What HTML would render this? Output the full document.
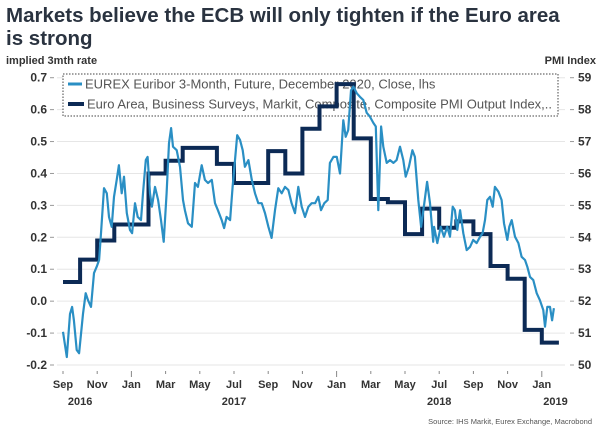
<!DOCTYPE html>
<html><head><meta charset="utf-8"><style>
body{margin:0;background:#fff;width:600px;height:431px;overflow:hidden;font-family:"Liberation Sans",sans-serif}
svg text{font-family:"Liberation Sans",sans-serif}
</style></head><body>
<svg id="chart" width="600" height="431" viewBox="0 0 600 431" xmlns="http://www.w3.org/2000/svg">
<text x="6" y="22" font-size="20.5" font-weight="bold" fill="#2a3340">Markets believe the ECB will only tighten if the Euro area</text>
<text x="6" y="45" font-size="20.5" font-weight="bold" fill="#2a3340">is strong</text>
<text x="6" y="64" font-size="11" font-weight="bold" fill="#333">implied 3mth rate</text>
<text x="596" y="64" font-size="11" font-weight="bold" fill="#333" text-anchor="end">PMI Index</text>
<g id="grid"></g>
<g>
<rect x="63" y="74" width="495" height="42" fill="#fff" stroke="#444" stroke-width="1" stroke-dasharray="1.5,1.5"/>
<g><line x1="68" y1="84" x2="82" y2="84" stroke="#2a8fc4" stroke-width="3"/><text x="85" y="88.5" font-size="13" fill="#555">EUREX Euribor 3-Month, Future, December 2020, Close, lhs</text></g>
<g><line x1="68" y1="104" x2="84" y2="104" stroke="#0c2a55" stroke-width="4"/><text x="87" y="108.5" font-size="13" fill="#555" textLength="465" lengthAdjust="spacingAndGlyphs">Euro Area, Business Surveys, Markit, Composite, Composite PMI Output Index,..</text></g>
</g>
<g id="axes"></g>
<g id="series"></g>
<text x="592" y="424" font-size="7.5" fill="#555" text-anchor="end">Source: IHS Markit, Eurex Exchange, Macrobond</text>
</svg>
<script>
const rateTicks=[0.7,0.6,0.5,0.4,0.3,0.2,0.1,0.0,-0.1,-0.2];
const pmiTicks=[59,58,57,56,55,54,53,52,51,50];
const monthLabels=["Sep","Nov","Jan","Mar","May","Jul","Sep","Nov","Jan","Mar","May","Jul","Sep","Nov","Jan"];
const yearLabels=["2016","2017","2018","2019"];
const yearMonths=[1,10,22,28.8];
const euriborMonths=[0,0.22,0.41,0.53,0.64,0.80,0.94,1.17,1.33,1.46,1.64,1.81,1.97,2.11,2.22,2.40,2.56,2.69,2.85,2.98,3.14,3.27,3.43,3.57,3.73,3.92,4.04,4.21,4.37,4.56,4.68,4.84,4.95,5.09,5.20,5.38,5.56,5.73,5.89,6.06,6.20,6.32,6.43,6.65,6.84,7.02,7.13,7.31,7.53,7.72,7.89,8.11,8.30,8.48,8.70,8.89,9.06,9.28,9.42,9.57,9.77,9.92,10.06,10.19,10.35,10.51,10.64,10.84,11.04,11.23,11.42,11.62,11.81,12.01,12.20,12.40,12.59,12.79,12.98,13.18,13.37,13.57,13.76,13.96,14.15,14.35,14.54,14.74,14.93,15.09,15.28,15.48,15.61,15.81,16.01,16.20,16.39,16.53,16.68,16.84,16.98,17.18,17.37,17.56,17.76,17.95,18.15,18.29,18.44,18.60,18.73,18.93,19.12,19.32,19.51,19.71,19.90,20.04,20.23,20.43,20.58,20.78,20.94,21.13,21.29,21.46,21.65,21.70,21.89,22.09,22.28,22.47,22.63,22.79,22.92,23.06,23.22,23.41,23.61,23.80,23.99,24.19,24.39,24.54,24.68,24.81,24.97,25.13,25.26,25.46,25.65,25.79,25.98,26.10,26.24,26.43,26.63,26.82,27.02,27.15,27.31,27.50,27.70,27.89,28.09,28.19,28.32,28.48,28.60,28.71];
const euriborValues=[-0.096,-0.175,-0.04,-0.018,-0.06,-0.153,-0.163,-0.04,0.025,0.003,-0.018,0.088,0.108,0.129,0.213,0.354,0.338,0.264,0.233,0.327,0.38,0.426,0.338,0.39,0.276,0.223,0.213,0.307,0.264,0.254,0.338,0.442,0.452,0.338,0.296,0.358,0.317,0.254,0.186,0.338,0.495,0.542,0.484,0.473,0.421,0.317,0.285,0.244,0.233,0.37,0.358,0.426,0.38,0.37,0.38,0.307,0.285,0.254,0.229,0.264,0.254,0.358,0.442,0.52,0.505,0.473,0.421,0.442,0.38,0.338,0.307,0.307,0.276,0.233,0.198,0.285,0.354,0.338,0.358,0.348,0.307,0.276,0.358,0.296,0.264,0.296,0.307,0.307,0.327,0.285,0.307,0.317,0.433,0.452,0.452,0.40,0.567,0.515,0.536,0.66,0.672,0.651,0.64,0.63,0.59,0.578,0.558,0.547,0.285,0.547,0.484,0.433,0.442,0.433,0.442,0.484,0.442,0.39,0.421,0.473,0.452,0.317,0.233,0.307,0.374,0.307,0.186,0.233,0.182,0.233,0.202,0.233,0.202,0.296,0.285,0.223,0.285,0.213,0.16,0.17,0.192,0.182,0.202,0.213,0.254,0.317,0.327,0.296,0.358,0.343,0.317,0.244,0.192,0.233,0.254,0.202,0.182,0.139,0.129,0.108,0.076,0.066,0.025,0.003,-0.028,-0.08,-0.018,-0.018,-0.06,-0.022,-0.03];
const pmiValues=[52.6,53.3,53.9,54.4,54.4,56.0,56.4,56.8,56.8,56.3,55.7,55.7,56.7,56.0,57.4,58.1,58.8,57.1,55.2,55.1,54.1,54.9,54.3,54.5,54.1,53.1,52.7,51.1,50.7];

const NS="http://www.w3.org/2000/svg";
const X0=63,PXM=17.1,YT=77.7,YB=365;
const xm=m=>X0+m*PXM;
const yRate=v=>YT+(0.7-v)/0.9*(YB-YT);
const yPmi=v=>YT+(59-v)/9*(YB-YT);
function mk(tag,attrs,parent){const e=document.createElementNS(NS,tag);for(const k in attrs)e.setAttribute(k,attrs[k]);parent.appendChild(e);return e;}
const grid=document.getElementById('grid'),axes=document.getElementById('axes'),series=document.getElementById('series');
rateTicks.forEach((t,i)=>{const y=yRate(t);
 const g=mk('line',{x1:57,x2:565,y1:y,y2:y,stroke:'#e6e6e6','stroke-width':1},grid);
 
 
 mk('line',{x1:50,x2:54,y1:y,y2:y,stroke:'#999'},axes);
 const tl=mk('text',{x:47,y:y+4,'font-size':12,'font-weight':'bold',fill:'#333','text-anchor':'end'},axes);tl.textContent=t.toFixed(1);
 
 
});
pmiTicks.forEach(t=>{const y=yPmi(t);
 mk('line',{x1:570,x2:574,y1:y,y2:y,stroke:'#999'},axes);
 const tr=mk('text',{x:578,y:y+4,'font-size':12,'font-weight':'bold',fill:'#333'},axes);tr.textContent=t;
 
 
});
monthLabels.forEach((l,i)=>{const x=xm(i*2);
 const isJan=(l==="Jan");
 mk('line',{x1:x,x2:x,y1:371,y2:isJan?377:374,stroke:'#888'},axes);
 const tx=mk('text',{x:x,y:388,'font-size':11,'font-weight':'bold',fill:'#333','text-anchor':'middle'},axes);tx.textContent=l;
 
 
});
yearLabels.forEach((l,i)=>{const ty=mk('text',{x:xm(yearMonths[i]),y:405,'font-size':11,'font-weight':'bold',fill:'#333','text-anchor':'middle'},axes);ty.textContent=l;
 
 
});
let d='';pmiValues.forEach((v,i)=>{const y=yPmi(v);d+=(i===0?'M':'L')+xm(i)+','+y+'L'+xm(i+1)+','+y;});
const p1=mk('path',{d:d,fill:'none',stroke:'#0c2a55','stroke-width':4,'stroke-linejoin':'miter'},series);


let d2='';euriborMonths.forEach((m,i)=>{d2+=(i===0?'M':'L')+xm(m).toFixed(1)+','+yRate(euriborValues[i]).toFixed(1);});
const p2=mk('path',{d:d2,fill:'none',stroke:'#2a8fc4','stroke-width':2.2,'stroke-linejoin':'round'},series);


</script>
</body></html>
